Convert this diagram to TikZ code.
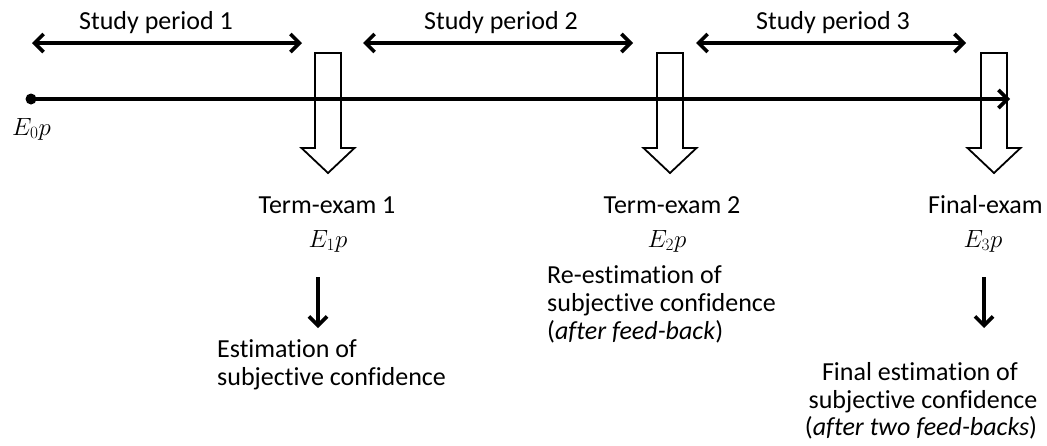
\documentclass[tikz,border=0pt]{standalone}
\usepackage{fontspec}
\setmainfont{Carlito}[Ligatures=NoCommon]
\usetikzlibrary{arrows.meta}
\begin{document}
\begin{tikzpicture}[x=1pt,y=-1pt,
  lbl/.style={font=\fontsize{26}{28}\selectfont, inner sep=0pt, text=black},
  bar/.style={line width=3.6pt, -{Straight Barb[length=9pt,width=18pt]}},
  dbar/.style={line width=3.6pt, {Straight Barb[length=9pt,width=18pt]}-{Straight Barb[length=9pt,width=18pt]}},
  blockarr/.style={line width=1.8pt, line join=miter},
  examarrow/.pic={\draw[blockarr] (-13,-47) -- (13,-47) -- (13,48) -- (26.5,48) -- (0,73) -- (-26.5,48) -- (-13,48) -- cycle;}
]
\useasboundingbox (0,0) rectangle (1047,445);
\clip (0,0) rectangle (1047,445);

% study periods
\node[lbl, anchor=base] (sp1) at (156,29) {Study period 1};
\node[lbl, anchor=base] (sp2) at (501,29) {Study period 2};
\node[lbl, anchor=base] (sp3) at (833,29) {Study period 3};
\coordinate (s1a) at (32,43);  \coordinate (s1b) at (302,43);
\coordinate (s2a) at (363,43); \coordinate (s2b) at (633,43);
\coordinate (s3a) at (696,43); \coordinate (s3b) at (966,43);
\draw[dbar] (s1a) -- (s1b);
\draw[dbar] (s2a) -- (s2b);
\draw[dbar] (s3a) -- (s3b);

% block arrows
\pic (ex1) at (328,100) {examarrow};
\pic (ex2) at (670,100) {examarrow};
\pic (ex3) at (994,100) {examarrow};

% timeline
\node[circle, fill=black, inner sep=0pt, minimum size=11pt] (t0) at (31,99) {};
\coordinate (tend) at (1010,99);
\draw[bar] (t0.center) -- (tend);
\node[lbl, anchor=base west] (e0) at (12,135) {$E_0p$};

% exam 1
\node[lbl, anchor=base] (x1) at (327,213) {Term-exam 1};
\node[lbl, anchor=base] (e1) at (328,247) {$E_1p$};
\coordinate (d1a) at (318,277); \coordinate (d1b) at (318,328);
\draw[bar] (d1a) -- (d1b);
\node[lbl, anchor=base west] (r1a) at (217,357) {Estimation of};
\node[lbl, anchor=base west] (r1b) at (217,385) {subjective confidence};

% exam 2
\node[lbl, anchor=base] (x2) at (672,213) {Term-exam 2};
\node[lbl, anchor=base] (e2) at (667,247) {$E_2p$};
\node[lbl, anchor=base west] (r2a) at (547,283) {Re-estimation of};
\node[lbl, anchor=base west] (r2b) at (547,311) {subjective confidence};
\node[lbl, anchor=base west] (r2c) at (547,339) {(\textit{after feed-back})};

% final exam
\node[lbl, anchor=base west] (x3) at (928,213) {Final-exam};
\node[lbl, anchor=base] (e3) at (983,247) {$E_3p$};
\coordinate (d3a) at (984,277); \coordinate (d3b) at (984,328);
\draw[bar] (d3a) -- (d3b);
\node[lbl, anchor=base] (r3a) at (920,380) {Final estimation of};
\node[lbl, anchor=base] (r3b) at (923,408) {subjective confidence};
\node[lbl, anchor=base] (r3c) at (921,435) {(\textit{after two feed-backs})};
\end{tikzpicture}
\end{document}
